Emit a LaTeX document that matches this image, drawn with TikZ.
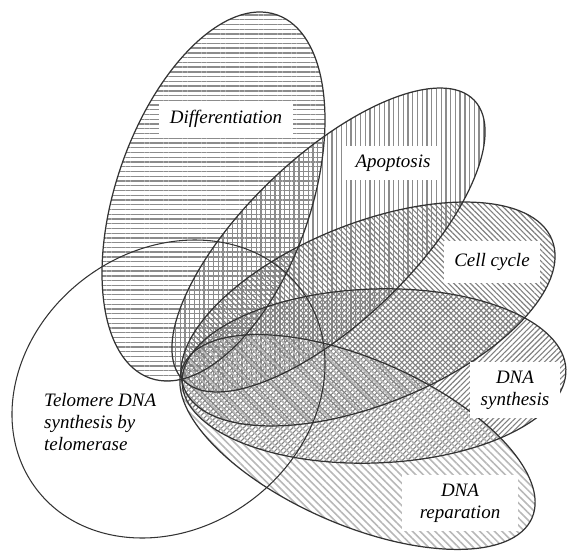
\documentclass[tikz,border=0pt]{standalone}
\usepackage{fontspec}
\setmainfont{Liberation Serif}[ItalicFont={Liberation Serif Italic}]
\usetikzlibrary{patterns.meta}

\begin{document}
\begin{tikzpicture}[x=0.02cm,y=-0.02cm,
  petal/.style={draw=black!80,line width=0.7pt},
  label box/.style={fill=white,inner xsep=6pt,inner ysep=5pt,align=center,font=\fontsize{10.8}{12.6}\selectfont\itshape}]
  \useasboundingbox (0,0) rectangle (568,551);

  \fill[pattern={Lines[angle=0,distance=2.7pt,line width=0.75pt]},pattern color=black!45]
    (213.5,196.5) ellipse [x radius=192.4,y radius=97.2,rotate=70.8];
  \fill[pattern={Lines[angle=90,distance=2.7pt,line width=0.75pt]},pattern color=black!45]
    (328.5,240) ellipse [x radius=201.9,y radius=82.7,rotate=43.8];
  \fill[pattern={Lines[angle=-45,distance=2.2pt,line width=0.65pt]},pattern color=black!50]
    (368,314) ellipse [x radius=198.4,y radius=90.3,rotate=22];
  \fill[pattern={Lines[angle=45,distance=2.2pt,line width=0.65pt]},pattern color=black!50]
    (374,376) ellipse [x radius=192,y radius=87,rotate=2];
  \fill[pattern={Lines[angle=-45,distance=3pt,line width=0.9pt]},pattern color=black!28]
    (357.5,442) ellipse [x radius=190.3,y radius=82.9,rotate=-23.5];

  \draw[petal] (213.5,196.5) ellipse [x radius=192.4,y radius=97.2,rotate=70.8];
  \draw[petal] (328.5,240) ellipse [x radius=201.9,y radius=82.7,rotate=43.8];
  \draw[petal] (368,314) ellipse [x radius=198.4,y radius=90.3,rotate=22];
  \draw[petal] (374,376) ellipse [x radius=192,y radius=87,rotate=2];
  \draw[petal] (357.5,442) ellipse [x radius=190.3,y radius=82.9,rotate=-23.5];
  \draw[petal,line width=0.6pt] (168.5,389) ellipse [x radius=165.7,y radius=138.7,rotate=36.9];

  \node[label box] (diff) at (226,119) {Differentiation};
  \node[label box] (apop) at (393,163) {Apoptosis};
  \node[label box,inner ysep=7pt] (cycle) at (492,262) {Cell cycle};
  \node[label box] (synth) at (515,390) {DNA\\synthesis};
  \node[label box,inner xsep=10pt] (repar) at (460,503) {DNA\\reparation};
  \node[align=left,anchor=west,font=\fontsize{10.8}{12.6}\selectfont\itshape] (telo) at (38,422) {Telomere DNA\\synthesis by\\telomerase};
\end{tikzpicture}
\end{document}
